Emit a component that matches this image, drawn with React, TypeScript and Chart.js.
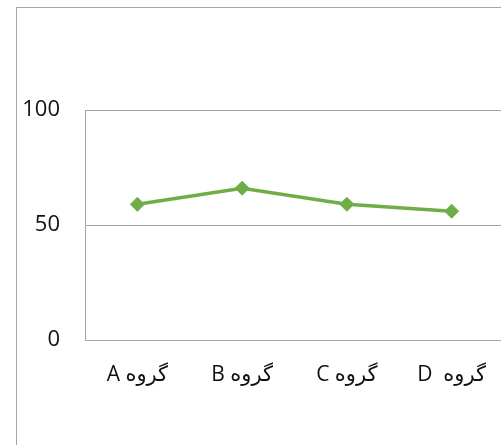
import React, { useEffect, useRef } from "react";
import { Chart, registerables } from "chart.js";

Chart.register(...registerables);

const categories = ["گروه A", "گروه B", "گروه C", "گروه  D"];
const values = [59, 66, 59, 56];
const yTicks = [0, 50, 100];

export default function App() {
  const ref = useRef<HTMLCanvasElement>(null);

  useEffect(() => {
    if (!ref.current) return;
    const chart = new Chart(ref.current, {
      type: "line",
      data: {
        labels: categories.map((c) => "\u202B" + c + "\u202C"),
        datasets: [
          {
            data: values,
            borderColor: "#70AD47",
            backgroundColor: "#70AD47",
            borderWidth: 3.5,
            pointStyle: "rectRot",
            pointRadius: 7,
            pointBorderWidth: 1,
            pointBorderColor: "#70AD47",
            pointBackgroundColor: "#70AD47",
            tension: 0,
          },
        ],
      },
      options: {
        responsive: false,
        animation: false,
        layout: { padding: { top: 110, right: 16, left: 0, bottom: 0 } },
        plugins: { legend: { display: false }, tooltip: { enabled: false } },
        scales: {
          x: {
            offset: true,
            grid: { display: false, drawTicks: false },
            border: { display: true, color: "#a6a6a6", width: 1 },
            ticks: {
              padding: 22,
              color: "#111",
              maxRotation: 0,
              font: { family: "'Open Sans', 'DejaVu Sans', sans-serif", size: 21 },
            },
            afterFit: (s: any) => {
              s.height = 105;
            },
          },
          y: {
            min: 0,
            max: 100,
            afterBuildTicks: (s: any) => {
              s.ticks = yTicks.map((v) => ({ value: v }));
            },
            grid: { color: "#a6a6a6", drawTicks: false, lineWidth: 1 },
            border: { display: true, color: "#a6a6a6", width: 1 },
            ticks: {
              padding: 25,
              color: "#111",
              font: { family: "'Open Sans', 'DejaVu Sans', sans-serif", size: 22 },
            },
            afterFit: (s: any) => {
              s.width = 85;
            },
          },
        },
      },
    });
    return () => chart.destroy();
  }, []);

  return (
    <div
      style={{
        position: "fixed",
        left: 0,
        top: 0,
        width: 501,
        height: 445,
        overflow: "hidden",
        background: "#fff",
      }}
    >
      <div
        style={{
          position: "absolute",
          left: 16,
          top: 7,
          width: 700,
          height: 700,
          borderLeft: "1px solid #a6a6a6",
          borderTop: "1px solid #a6a6a6",
        }}
      />
      <canvas
        ref={ref}
        width={520}
        height={445}
        style={{ position: "absolute", left: 0, top: 0, width: 520, height: 445 }}
      />
    </div>
  );
}
